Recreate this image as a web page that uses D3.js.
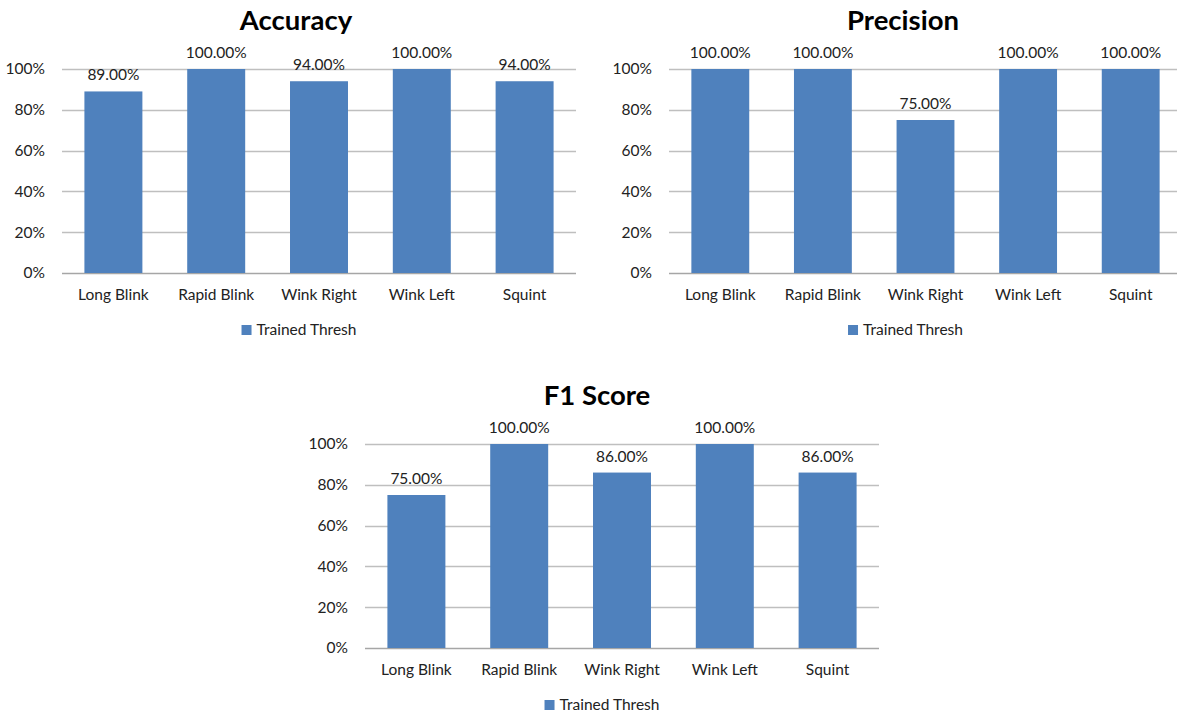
<!DOCTYPE html>
<html><head><meta charset="utf-8">
<script src="https://cdn.jsdelivr.net/npm/d3@7"></script>
<style>body{margin:0;background:#fff}svg{display:block}text{font-family:Lato,"Open Sans",sans-serif}</style>
</head><body>
<svg id="c" width="1177" height="716"></svg>
<script>
const categories = ["Long Blink","Rapid Blink","Wink Right","Wink Left","Squint"];
const accuracyValues = [0.89,1.00,0.94,1.00,0.94];
const precisionValues = [1.00,1.00,0.75,1.00,1.00];
const f1Values = [0.75,1.00,0.86,1.00,0.86];
const yTicks = [0,0.2,0.4,0.6,0.8,1.0];
const seriesName = "Trained Thresh";
const panels = [
  {title:"Accuracy", values:accuracyValues, x0:62, x1:576, y0:273, y1:69, titleX:296, titleY:30},
  {title:"Precision", values:precisionValues, x0:669, x1:1182, y0:273, y1:69, titleX:903, titleY:30},
  {title:"F1 Score", values:f1Values, x0:365, x1:879, y0:648, y1:444, titleX:597, titleY:405}
];
const svg = d3.select("#c");
const barColor = "#4F81BD";
panels.forEach(p=>{
  const g = svg.append("g");
  const x = d3.scaleBand().domain(categories).range([p.x0,p.x1]).paddingInner(0.436).paddingOuter(0.218);
  const y = d3.scaleLinear().domain([0,1]).range([p.y0,p.y1]);
  g.append("text").attr("x",p.titleX).attr("y",p.titleY).attr("text-anchor","middle")
    .attr("font-size",27.5).attr("font-weight","bold").attr("fill","#000").text(p.title);
  g.selectAll(".grid").data(yTicks).join("line")
    .attr("x1",p.x0).attr("x2",p.x1).attr("y1",d=>Math.round(y(d))+0.5).attr("y2",d=>Math.round(y(d))+0.5)
    .attr("stroke",d=>d===0?"#A6A6A6":"#BFBFBF").attr("stroke-width",1.3);
  g.selectAll(".yl").data(yTicks).join("text")
    .attr("x",p.x0-17).attr("y",d=>y(d)).attr("dy","0.35em").attr("text-anchor","end")
    .attr("font-size",15.5).attr("fill","#222").text(d=>d3.format(".0%")(d));
  g.selectAll(".bar").data(p.values).join("rect")
    .attr("x",(d,i)=>x(categories[i])).attr("width",x.bandwidth())
    .attr("y",d=>y(d)).attr("height",d=>y(0)-y(d)).attr("fill",barColor);
  g.selectAll(".vl").data(p.values).join("text")
    .attr("x",(d,i)=>x(categories[i])+x.bandwidth()/2).attr("y",d=>y(d)-11)
    .attr("text-anchor","middle").attr("font-size",15.5).attr("fill","#222")
    .text(d=>d3.format(".2%")(d));
  g.selectAll(".cl").data(categories).join("text")
    .attr("x",d=>x(d)+x.bandwidth()/2).attr("y",p.y0+27)
    .attr("text-anchor","middle").attr("font-size",15.5).attr("fill","#222").text(d=>d);
  const lc = (p.x0+p.x1)/2 - 20;
  const lg = g.append("g");
  const lt = lg.append("text").attr("y",p.y0+62).attr("font-size",15.5).attr("fill","#222").text(seriesName);
  const w = lt.node().getComputedTextLength();
  const total = 10+5+w;
  const lx = lc - total/2;
  lg.append("rect").attr("x",lx).attr("y",p.y0+52).attr("width",10).attr("height",10).attr("fill",barColor);
  lt.attr("x",lx+15);
});
</script>
</body></html>
